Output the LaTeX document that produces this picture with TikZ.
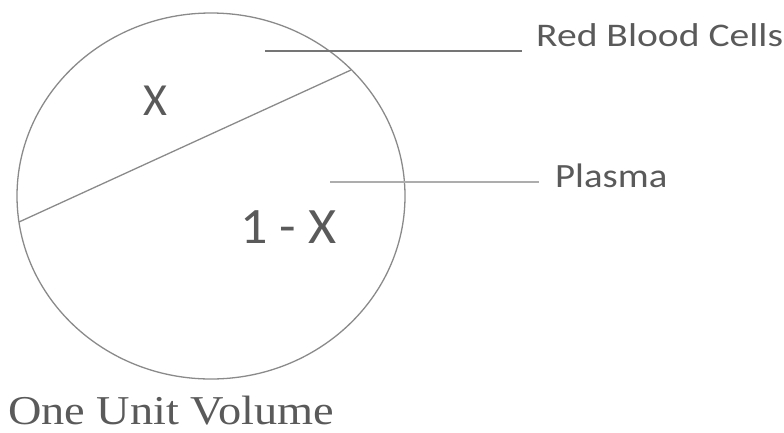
\documentclass[tikz,border=0pt]{standalone}
\usepackage{fontspec}
\setmainfont{Liberation Serif}
\newfontfamily\wideserif[FakeStretch=1.13]{Liberation Serif}
\newfontfamily\calib{Carlito}
\newfontfamily\calibwide[FakeStretch=1.2]{Carlito}
\newfontfamily\calibmid[FakeStretch=1.14]{Carlito}
\newfontfamily\calibone[FakeStretch=1.06]{Carlito}
\definecolor{ink}{HTML}{5A5A5A}
\definecolor{pen}{HTML}{8A8A8A}
\tikzset{
  outline/.style={draw=pen, line width=1.3pt},
  leader/.style={draw=pen!85!black, line width=1.4pt},
  lbl/.style={inner sep=0pt, text=ink, anchor=base west},
}
\begin{document}
\begin{tikzpicture}[x=1pt, y=-1pt]
\useasboundingbox (0,0) rectangle (784,432);
% the unit volume
\draw[outline] (211,196) ellipse [x radius=194pt, y radius=183pt];
\coordinate (chordL) at (19,222);
\coordinate (chordR) at (351,70);
\draw[outline] (chordL) -- (chordR);
% labels
\node[lbl, font=\calib\fontsize{46}{50}\selectfont, anchor=center] (x) at (155,101) {X};
\node[lbl, font=\calibone\fontsize{51}{56}\selectfont, anchor=center] (onex) at (288.5,227) {1 - X};
\node[lbl, font=\calibwide\fontsize{33}{40}\selectfont] (rbc) at (536,46) {Red Blood Cells};
\node[lbl, font=\calibmid\fontsize{34}{40}\selectfont] (plasma) at (555,187) {Plasma};
\node[lbl, font=\wideserif\fontsize{41}{46}\selectfont] (unit) at (8,424) {One Unit Volume};
% leaders
\coordinate (rbcStart) at (265,51);
\coordinate (rbcEnd) at (522,51);
\coordinate (plStart) at (330,182);
\coordinate (plEnd) at (539,182);
\draw[leader] (rbcStart) -- (rbcEnd);
\draw[leader, draw=pen!70] (plStart) -- (plEnd);
\end{tikzpicture}
\end{document}
